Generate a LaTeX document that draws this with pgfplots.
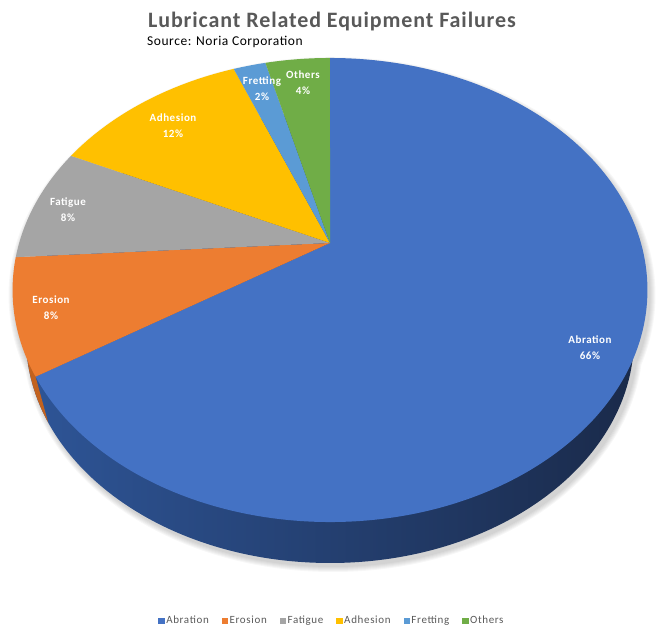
\documentclass[border=0pt]{standalone}
\usepackage{fontspec}
\setmainfont{Carlito}
\usepackage{pgfplots}
\usepackage{pgfplotstable}
\pgfplotsset{compat=1.18}

\definecolor{cAbr}{HTML}{4472C4}
\definecolor{cEro}{HTML}{ED7D31}
\definecolor{cFat}{HTML}{A5A5A5}
\definecolor{cAdh}{HTML}{FFC000}
\definecolor{cFre}{HTML}{5B9BD5}
\definecolor{cOth}{HTML}{70AD47}
\definecolor{cEroSide}{HTML}{C2621F}
\definecolor{cSideL}{HTML}{2E5597}
\definecolor{cSideM}{HTML}{1F3663}
\definecolor{cSideR}{HTML}{1A2A4A}
\definecolor{cTitle}{HTML}{595959}

\pgfplotstableread{
name     value
Abration 66
Erosion  8
Fatigue  8
Adhesion 12
Fretting 2
Others   4
}\piedata

% tilted pie, picture units (1 unit = 1pt), y upwards
\def\pcx{330}    % apex
\def\pcy{391}
\def\pk{0.2026}  % perspective
\def\pA{222.5}
\def\pS{310.9}
\pgfmathsetmacro\erx{\pS/sqrt(1-\pk*\pk)}
\pgfmathsetmacro\ery{\pA/(1-\pk*\pk)}
\pgfmathsetmacro\ecy{\pcy-\pA*\pk/(1-\pk*\pk)}
% bottom rim of the pie
\def\brx{304}
\def\bry{225}
\def\bcy{296}

% point on the rim at angle #2 (clockwise from top)
\newcommand\piept[2]{%
  \pgfmathsetmacro\pu{sin(#2)}%
  \pgfmathsetmacro\pv{cos(#2)}%
  \pgfmathsetmacro\qx{\pcx+\pS*\pu/(1+\pk*\pv)}%
  \pgfmathsetmacro\qy{\pcy+\pA*\pv/(1+\pk*\pv)}%
  \pgfmathsetmacro\qa{atan2((\qy-\ecy)/\ery,(\qx-\pcx)/\erx)}%
  \expandafter\xdef\csname px#1\endcsname{\qx}%
  \expandafter\xdef\csname py#1\endcsname{\qy}%
  \expandafter\xdef\csname pa#1\endcsname{\qa}%
}

\xdef\cum{0}
\piept{0}{0}
\foreach \i in {0,...,5}{%
  \pgfplotstablegetelem{\i}{value}\of\piedata
  \pgfmathsetmacro\newcum{\cum+3.6*\pgfplotsretval}%
  \xdef\cum{\newcum}%
  \pgfmathtruncatemacro\j{\i+1}%
  \piept{\j}{\newcum}%
}
\foreach \i in {0,...,5}{%
  \pgfmathtruncatemacro\j{\i+1}%
  \pgfmathsetmacro\tmpe{\csname pa\j\endcsname>\csname pa\i\endcsname ? \csname pa\j\endcsname-360 : \csname pa\j\endcsname}%
  \expandafter\xdef\csname pe\i\endcsname{\tmpe}%
}

% edge between Abration and Erosion on the side
\pgfmathsetmacro\qOx{\pcx+(\csname px1\endcsname-\pcx)/\erx*\brx}
\pgfmathsetmacro\qOy{\bcy+(\csname py1\endcsname-\ecy)/\ery*\bry}
\pgfmathsetmacro\eUx{\csname px1\endcsname+3*(\csname px1\endcsname-\qOx)}
\pgfmathsetmacro\eUy{\csname py1\endcsname+3*(\csname py1\endcsname-\qOy)}
\pgfmathsetmacro\eDx{\qOx+(\qOx-\csname px1\endcsname)}
\pgfmathsetmacro\eDy{\qOy+(\qOy-\csname py1\endcsname)}
\pgfmathsetmacro\hcy{\ecy-5}
\pgfmathsetmacro\hbcy{\bcy-3}

\newcommand\slice[2]{%
  \fill[#2] (axis cs:\pcx,\pcy) -- (axis cs:\csname px#1\endcsname,\csname py#1\endcsname)
    arc[start angle=\csname pa#1\endcsname, end angle=\csname pe#1\endcsname,
        x radius=\erx pt, y radius=\ery pt] -- cycle;}

\begin{document}
\begin{tikzpicture}
\begin{axis}[
    x=1pt, y=1pt,
    xmin=0, xmax=664, ymin=0, ymax=634,
    scale only axis, hide axis, clip=false,
    legend columns=6,
    legend image code/.code={\fill[#1] (0pt,-2.7pt) rectangle (5.4pt,2.7pt);},
    legend style={at={(0.5,0.021)}, anchor=center, draw=none, fill=none,
        font=\fontsize{11}{12}\selectfont\addfontfeature{LetterSpace=6}, text=cTitle,
        /tikz/every even column/.append style={column sep=11pt}},
]
\path (axis cs:0,0) rectangle (axis cs:664,634);

% soft shadow
\pgfplotsinvokeforeach{1,...,6}{
  \fill[black, opacity=0.03] (axis cs:332,\hcy) ellipse[x radius={\erx pt+#1pt}, y radius={\ery pt+#1pt}]
                            (axis cs:333,\hbcy) ellipse[x radius={\brx pt+#1pt}, y radius={\bry pt+#1pt}];
}

% side of the pie
\shade[left color=cSideL, middle color=cSideM, right color=cSideR]
  (axis cs:\pcx,\bcy) ellipse[x radius=\brx pt, y radius=\bry pt];
\begin{scope}
  \clip (axis cs:\pcx,\bcy) ellipse[x radius=\brx pt, y radius=\bry pt];
  \fill[cEroSide] (axis cs:\eUx,\eUy) -- (axis cs:\eDx,\eDy) -- (axis cs:-50,\eDy) -- (axis cs:-50,\eUy) -- cycle;
\end{scope}

% top face
\slice{0}{cAbr}
\slice{1}{cEro}
\slice{2}{cFat}
\slice{3}{cAdh}
\slice{4}{cFre}
\slice{5}{cOth}

% data labels
\begin{scope}[every node/.style={text=white, align=center, font=\fontsize{11}{16}\selectfont\bfseries\addfontfeature{LetterSpace=5}}]
\node at (axis cs:590,286) {Abration\\66\%};
\node at (axis cs:51,326) {Erosion\\8\%};
\node at (axis cs:68,424) {Fatigue\\8\%};
\node at (axis cs:173,508) {Adhesion\\12\%};
\node at (axis cs:262,545) {Fretting\\2\%};
\node at (axis cs:303,551) {Others\\4\%};
\end{scope}

\node[text=cTitle, font=\fontsize{22}{26}\selectfont\bfseries\addfontfeature{LetterSpace=4}] at (axis cs:332,612) {Lubricant Related Equipment Failures};
\node[anchor=west, inner sep=0pt, font=\fontsize{13.5}{15}\selectfont\addfontfeature{LetterSpace=4}] at (axis cs:147,592) {Source: Noria Corporation};

\addlegendimage{cAbr}\addlegendentry{Abration}
\addlegendimage{cEro}\addlegendentry{Erosion}
\addlegendimage{cFat}\addlegendentry{Fatigue}
\addlegendimage{cAdh}\addlegendentry{Adhesion}
\addlegendimage{cFre}\addlegendentry{Fretting}
\addlegendimage{cOth}\addlegendentry{Others}
\end{axis}
\end{tikzpicture}
\end{document}
